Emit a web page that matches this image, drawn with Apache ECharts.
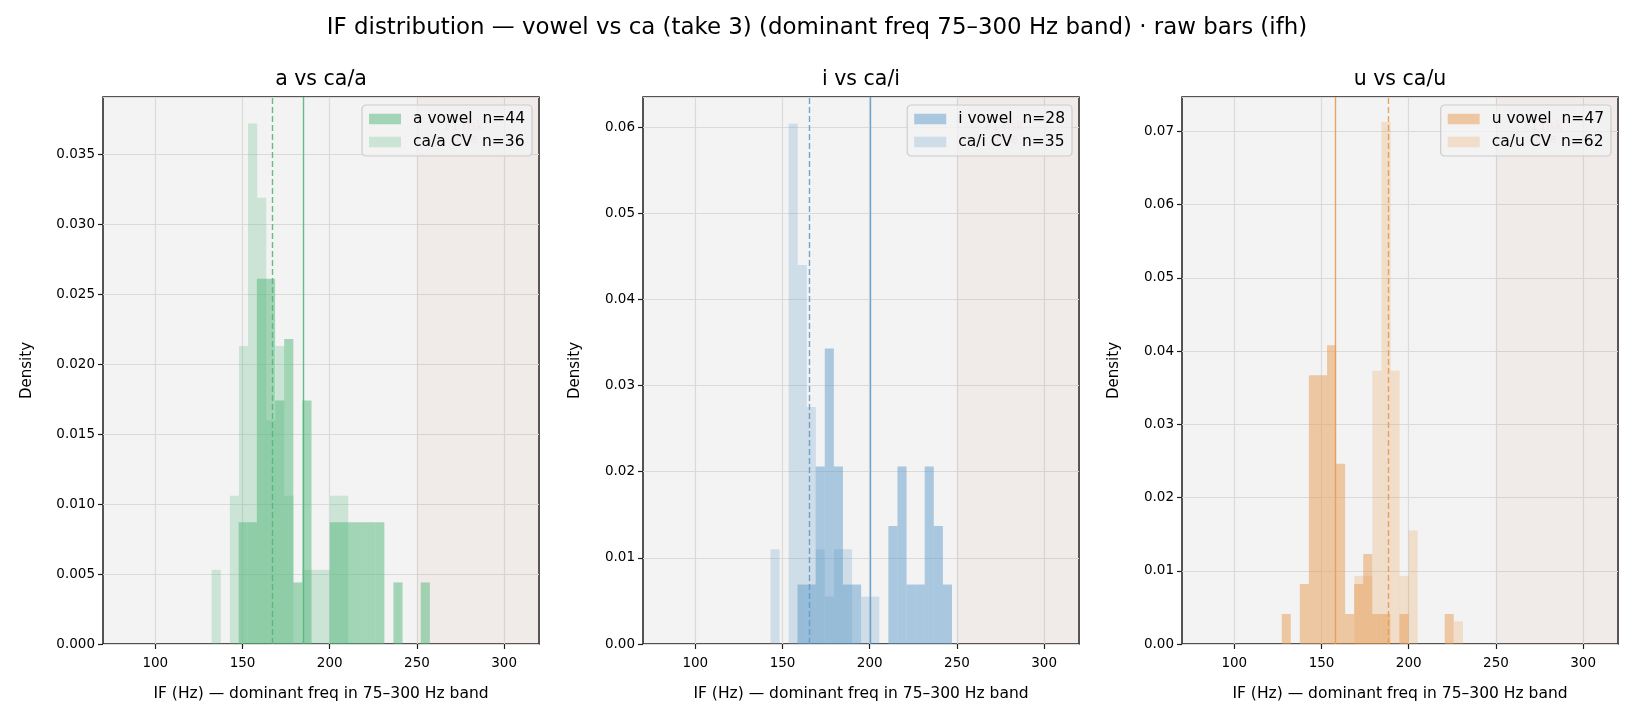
<!DOCTYPE html>
<html>
<head>
<meta charset="utf-8">
<title>IF distribution - vowel vs ca</title>
<script src="https://cdn.jsdelivr.net/npm/echarts@6/dist/echarts.min.js"></script>
<style>
  html, body { margin: 0; padding: 0; background: #fff; }
  #chart { width: 1634px; height: 719px; }
</style>
</head>
<body>
<div id="chart"></div>
<script>
// titles and labels
var suptitle = 'IF distribution \u2014 vowel vs ca (take 3) (dominant freq 75\u2013300 Hz band) \u00b7 raw bars (ifh)';
var panelTitles = ['a vs ca/a', 'i vs ca/i', 'u vs ca/u'];
var vowelNames = ['a vowel  n=44', 'i vowel  n=28', 'u vowel  n=47'];
var cvNames = ['ca/a CV  n=36', 'ca/i CV  n=35', 'ca/u CV  n=62'];
var xLabel = 'IF (Hz) \u2014 dominant freq in 75\u2013300 Hz band';
var xTicks = [100, 150, 200, 250, 300];
var yMax = [0.0391, 0.0635, 0.0747];
var yStep = [0.005, 0.01, 0.01];
var yDigits = [3, 2, 2];

// histograms: first bin edge (Hz), bin width (Hz), density per bin
var aVowelStart = 147.8, aVowelWidth = 5.22;
var aVowel = [0.0087, 0.0087, 0.0261, 0.0261, 0.0174, 0.0218, 0.0044, 0.0174, 0, 0,
              0.0087, 0.0087, 0.0087, 0.0087, 0.0087, 0.0087, 0, 0.0044, 0, 0, 0.0044];
var caAStart = 132.3, caAWidth = 5.22;
var caA = [0.0053, 0, 0.0106, 0.0213, 0.0372, 0.0319, 0.016, 0.0213, 0.0106, 0,
           0.0053, 0.0053, 0.0053, 0.0106, 0.0106];

var iVowelStart = 158.6, iVowelWidth = 5.21;
var iVowel = [0.0069, 0.0069, 0.0206, 0.0343, 0.0206, 0.0069, 0.0069, 0, 0, 0,
              0.0137, 0.0206, 0.0069, 0.0069, 0.0206, 0.0137, 0.0069];
var caIStart = 143.1, caIWidth = 5.2;
var caI = [0.011, 0, 0.0604, 0.044, 0.0275, 0.011, 0.0055, 0.011, 0.011, 0, 0.0055, 0.0055];

var uVowelStart = 127.2, uVowelWidth = 5.19;
var uVowel = [0.0041, 0, 0.0082, 0.0367, 0.0367, 0.0408, 0.0246, 0.0041, 0.0082, 0.0123,
              0.0041, 0.0041, 0, 0.0041, 0, 0, 0, 0, 0.0041];
var caUStart = 168.8, caUWidth = 5.19;
var caU = [0.0093, 0.0093, 0.0373, 0.0713, 0.0373, 0.0093, 0.0155, 0, 0, 0, 0, 0.0031];

// vertical reference lines (solid = vowel, dashed = CV)
var vowelMean = [185.1, 200.2, 158.0];
var cvMean = [167.3, 165.5, 188.2];
var riskZone = [250, 320];

var vowelHist = [[aVowelStart, aVowelWidth, aVowel], [iVowelStart, iVowelWidth, iVowel], [uVowelStart, uVowelWidth, uVowel]];
var cvHist = [[caAStart, caAWidth, caA], [caIStart, caIWidth, caI], [caUStart, caUWidth, caU]];

var baseColors = [[82, 184, 122], [95, 155, 201], [231, 155, 81]];
var FONT = 'DejaVu Sans';
var lefts = [103, 643, 1182];
var TOP = 97, W = 436, H = 547;

function rgba(c, a) { return 'rgba(' + c[0] + ',' + c[1] + ',' + c[2] + ',' + a + ')'; }

function binData(h) {
  var out = [];
  for (var i = 0; i < h[2].length; i++) {
    out.push([h[0] + i * h[1], h[0] + (i + 1) * h[1], h[2][i]]);
  }
  return out;
}

function renderBin(params, api) {
  var p0 = api.coord([api.value(0), api.value(2)]);
  var p1 = api.coord([api.value(1), 0]);
  return {
    type: 'rect',
    shape: { x: p0[0], y: p0[1], width: p1[0] - p0[0], height: p1[1] - p0[1] },
    style: { fill: api.visual('color') }
  };
}

var grids = [], xAxes = [], yAxes = [], series = [], legends = [], graphics = [];

graphics.push({
  type: 'text', x: 817, y: 28,
  style: { text: suptitle, align: 'center', verticalAlign: 'middle', fontSize: 22.9, fontFamily: FONT, fill: '#000' }
});

for (var p = 0; p < 3; p++) {
  grids.push({
    left: lefts[p], top: TOP, width: W, height: H,
    show: true, backgroundColor: '#f3f3f3', borderColor: '#1e1e1e', borderWidth: 1.5
  });
  xAxes.push({
    type: 'value', gridIndex: p, min: 70, max: 320,
    name: xLabel, nameLocation: 'middle', nameGap: 42,
    nameTextStyle: { fontFamily: FONT, fontSize: 15.5, color: '#000' },
    axisLine: { show: false },
    axisTick: { show: true, length: 5, customValues: xTicks, lineStyle: { color: '#1e1e1e', width: 1.2 } },
    axisLabel: { customValues: xTicks, margin: 12, fontFamily: FONT, fontSize: 13.5, color: '#000' },
    splitLine: { show: true, lineStyle: { color: '#dadada', width: 1.2 } }
  });
  yAxes.push({
    type: 'value', gridIndex: p, min: 0, max: yMax[p], interval: yStep[p],
    name: 'Density', nameLocation: 'middle', nameGap: p === 0 ? 68 : 60,
    nameTextStyle: { fontFamily: FONT, fontSize: 15, color: '#000' },
    axisLine: { show: false },
    axisTick: { show: true, length: 5, lineStyle: { color: '#1e1e1e', width: 1.2 } },
    axisLabel: {
      margin: 8, fontFamily: FONT, fontSize: 13.5, color: '#000', showMaxLabel: false,
      formatter: (function (d) { return function (v) { return v.toFixed(d); }; })(yDigits[p])
    },
    splitLine: { show: true, lineStyle: { color: '#dadada', width: 1.2 } }
  });

  var c = baseColors[p];
  series.push({
    type: 'custom', name: vowelNames[p], xAxisIndex: p, yAxisIndex: p,
    renderItem: renderBin, encode: { x: [0, 1], y: 2 },
    itemStyle: { color: rgba(c, 0.5) },
    data: binData(vowelHist[p]),
    markArea: {
      silent: true,
      itemStyle: { color: 'rgba(210,140,120,0.08)' },
      label: {
        show: true, position: 'insideTop', distance: 24, offset: [-14, 0],
        formatter: 'F1 risk\nzone', color: 'rgba(225,110,110,0.45)',
        fontFamily: FONT, fontSize: 11.5, lineHeight: 13
      },
      data: [[{ xAxis: riskZone[0] }, { xAxis: riskZone[1] }]]
    },
    markLine: {
      silent: true, symbol: 'none', label: { show: false },
      lineStyle: { color: rgba(c, 0.9), width: 1.4, type: 'solid' },
      data: [{ xAxis: vowelMean[p] }]
    }
  });
  series.push({
    type: 'custom', name: cvNames[p], xAxisIndex: p, yAxisIndex: p,
    renderItem: renderBin, encode: { x: [0, 1], y: 2 },
    itemStyle: { color: rgba(c, 0.25) },
    data: binData(cvHist[p]),
    markLine: {
      silent: true, symbol: 'none', label: { show: false },
      lineStyle: { color: rgba(c, 0.9), width: 1.4, type: [6, 3] },
      data: [{ xAxis: cvMean[p] }]
    }
  });

  legends.push({
    data: [vowelNames[p], cvNames[p]],
    orient: 'vertical', right: 1634 - (lefts[p] + W - 7), top: TOP + 8,
    icon: 'rect', itemWidth: 32, itemHeight: 10.5, itemGap: 7,
    padding: [6, 7, 6, 7],
    backgroundColor: 'rgba(243,243,243,0.8)', borderColor: '#cccccc', borderWidth: 1.2, borderRadius: 4,
    textStyle: { fontFamily: FONT, fontSize: 15.5, color: '#000', lineHeight: 16, padding: [0, 0, 0, 7] },
    selectedMode: false
  });

  graphics.push({
    type: 'text', x: lefts[p] + W / 2, y: 80,
    style: { text: panelTitles[p], align: 'center', verticalAlign: 'middle', fontSize: 20.5, fontFamily: FONT, fill: '#000' }
  });
}

var chart = echarts.init(document.getElementById('chart'), null, { renderer: 'canvas' });
chart.setOption({
  animation: false,
  backgroundColor: '#ffffff',
  grid: grids,
  xAxis: xAxes,
  yAxis: yAxes,
  legend: legends,
  graphic: graphics,
  series: series
});
</script>
</body>
</html>
